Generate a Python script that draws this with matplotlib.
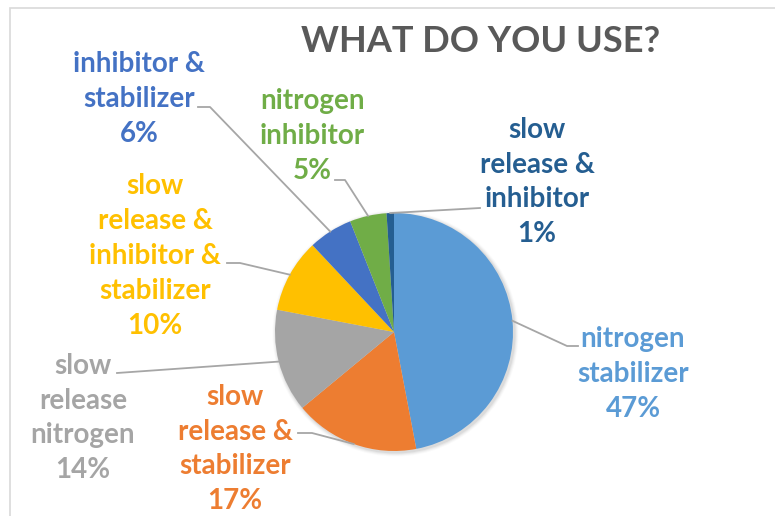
import matplotlib
matplotlib.use("Agg")
import matplotlib.pyplot as plt
from matplotlib.patches import Rectangle, Circle
import numpy as np

# ---- data ----
categories = ["nitrogen\nstabilizer", "slow\nrelease &\nstabilizer", "slow\nrelease\nnitrogen",
              "slow\nrelease &\ninhibitor &\nstabilizer", "inhibitor &\nstabilizer",
              "nitrogen\ninhibitor", "slow\nrelease &\ninhibitor"]
values = [47, 17, 14, 10, 6, 5, 1]
colors = ["#5B9BD5", "#ED7D31", "#A5A5A5", "#FFC000", "#4472C4", "#70AD47", "#255E91"]
title = "WHAT DO YOU USE?"

# label layout (pixel coords, y from top): text center, leader start (near text), elbow
label_pos = [(633, 374), (235, 449), (83, 418), (155, 256), (139, 99), (312, 136), (537, 182)]
leader_pts = [[(578, 346), (567, 346)],
              [(298, 433), (312, 433)],
              [(117, 373)],
              [(227, 263), (240, 263)],
              [(198, 107), (210, 107)],
              [(335, 180), (345, 180)],
              [(480, 208)]]

W, H = 775, 516
fig = plt.figure(figsize=(W / 100, H / 100), dpi=100)
ax = fig.add_axes([0, 0, 1, 1])

def Y(y):
    return H - y

# chart border
ax.add_patch(Rectangle((10, Y(800)), 900, 792, fill=False, edgecolor="#D9D9D9", lw=1.2))

cx, cy, R = 394, 332, 119
# soft shadow
for i, a in enumerate([0.05, 0.04, 0.03, 0.02]):
    ax.add_patch(Circle((cx + 1.5, Y(cy) - 1.5), R + 1 + i, color="black", alpha=a, lw=0, zorder=1))

wedges, _ = ax.pie(values, colors=colors, startangle=90, counterclock=False,
                   center=(cx, Y(cy)), radius=R, wedgeprops=dict(linewidth=0, zorder=2))
ax.set_xlim(0, W)
ax.set_ylim(0, H)
ax.set_aspect("equal")
ax.axis("off")

fp = dict(family=["Lato", "DejaVu Sans"], weight="bold")
ax.text(481, Y(41), title, ha="center", va="center", fontsize=26, color="#595959", **fp)

for w, cat, v, c, (tx, ty), pts in zip(wedges, categories, values, colors, label_pos, leader_pts):
    ang = np.deg2rad((w.theta1 + w.theta2) / 2)
    ex, ey = cx + R * np.cos(ang), Y(cy) + R * np.sin(ang)
    xs = [p[0] for p in pts] + [ex]
    ys = [Y(p[1]) for p in pts] + [ey]
    ax.plot(xs, ys, color="#A6A6A6", lw=1.3, zorder=3)
    ax.text(tx, Y(ty), f"{cat}\n{v}%", ha="center", va="center", fontsize=20,
            color=c, linespacing=1.42, **fp)

fig.savefig("out.png", dpi=100)
